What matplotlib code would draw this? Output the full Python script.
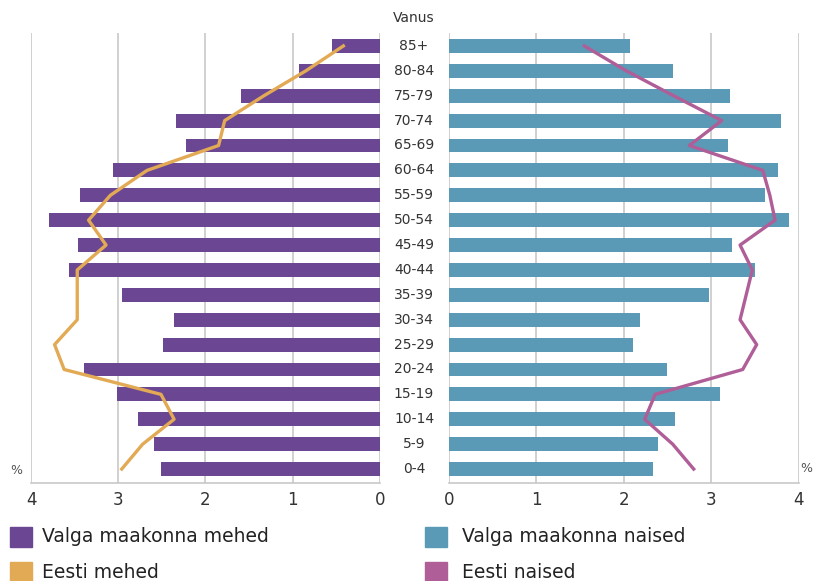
import matplotlib.pyplot as plt
import numpy as np

plt.rcParams['font.family'] = ['DejaVu Sans']

ages = ['0-4', '5-9', '10-14', '15-19', '20-24', '25-29', '30-34', '35-39', '40-44',
        '45-49', '50-54', '55-59', '60-64', '65-69', '70-74', '75-79', '80-84', '85+']

# Valga county, % of population (bottom to top)
valga_men = [2.51, 2.59, 2.77, 3.02, 3.39, 2.49, 2.36, 2.96, 3.57,
             3.46, 3.79, 3.44, 3.06, 2.22, 2.34, 1.59, 0.93, 0.55]
valga_women = [2.34, 2.39, 2.59, 3.10, 2.49, 2.11, 2.19, 2.97, 3.50,
               3.24, 3.89, 3.62, 3.76, 3.19, 3.80, 3.22, 2.56, 2.07]
# Estonia
eesti_men = [2.96, 2.72, 2.36, 2.51, 3.62, 3.73, 3.47, 3.47, 3.47,
             3.14, 3.34, 3.09, 2.67, 1.85, 1.78, 1.33, 0.85, 0.42]
eesti_women = [2.80, 2.56, 2.24, 2.36, 3.36, 3.52, 3.33, 3.40, 3.47,
               3.33, 3.73, 3.67, 3.59, 2.75, 3.12, 2.57, 2.03, 1.55]

c_men = '#6b4793'
c_women = '#5a9ab6'
c_eesti_m = '#e3aa55'
c_eesti_w = '#b05e97'
grid_c = '#c8c8c8'

fig = plt.figure(figsize=(8.14, 5.81), dpi=100)
axl = fig.add_axes([0.0381, 0.1687, 0.4287, 0.7745])
axr = fig.add_axes([0.5512, 0.1687, 0.4300, 0.7745])

y = np.arange(len(ages))
bh = 0.56

axl.barh(y, valga_men, height=bh, color=c_men, zorder=2)
axl.plot(eesti_men, y, color=c_eesti_m, lw=2.4, zorder=3)
axr.barh(y, valga_women, height=bh, color=c_women, zorder=2)
axr.plot(eesti_women, y, color=c_eesti_w, lw=2.4, zorder=3)

axl.set_xlim(4, 0)
axr.set_xlim(0, 4)
for ax in (axl, axr):
    ax.set_ylim(-0.56, 17.52)
    ax.set_xticks([0, 1, 2, 3, 4])
    ax.set_yticks([])
    ax.grid(axis='x', color=grid_c, lw=1.2, zorder=0)
    for s in ('top', 'left', 'right'):
        ax.spines[s].set_visible(False)
    ax.spines['bottom'].set_color(grid_c)
    ax.spines['bottom'].set_linewidth(1.2)
    ax.tick_params(axis='x', length=0, labelsize=12, pad=6, colors='#333333')

for i, a in enumerate(ages):
    axl.annotate(a, xy=(0, y[i]), xytext=(24.5, 0), textcoords='offset points',
                 ha='center', va='center', fontsize=10, color='#333333',
                 annotation_clip=False)

fig.text(414 / 814, 1 - 18 / 581, 'Vanus', ha='center', va='center', fontsize=10, color='#333333')
fig.text(16 / 814, 1 - 470 / 581, '%', ha='center', va='center', fontsize=9, color='#555555')
fig.text(806 / 814, 1 - 468 / 581, '%', ha='center', va='center', fontsize=9, color='#555555')

legend_items = [
    (10, 42, 537, c_men, 'Valga maakonna mehed'),
    (10, 42, 572, c_eesti_m, 'Eesti mehed'),
    (425, 462, 537, c_women, 'Valga maakonna naised'),
    (425, 462, 572, c_eesti_w, 'Eesti naised'),
]
for x0, xt, y0, col, lab in legend_items:
    fig.patches.append(plt.Rectangle((x0 / 814, 1 - (y0 + 10) / 581), 22 / 814, 20 / 581,
                                     transform=fig.transFigure, color=col))
    fig.text(xt / 814, 1 - y0 / 581, lab, ha='left', va='center', fontsize=13.5,
             color='#222222')

fig.savefig('out.png', dpi=100)
